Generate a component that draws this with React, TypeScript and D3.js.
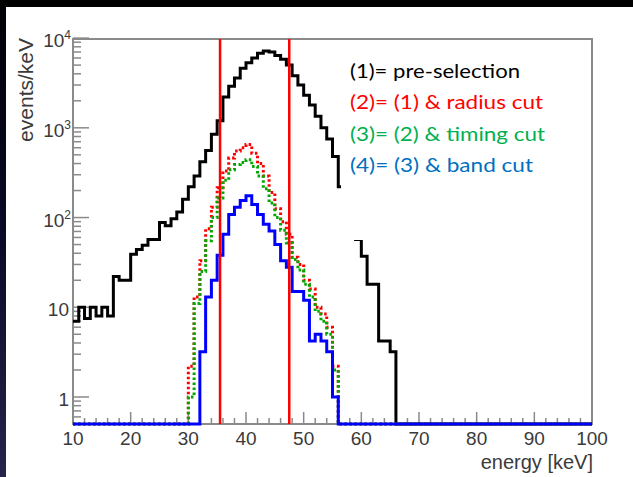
import React from "react";
import * as d3 from "d3";

// ---- data (1 keV bins, value per bin starting at given lower edge) ----
const blackStart = 10;
const blackValues = [7, 10, 7.5, 10, 8, 10, 8, 22, 20, 20, 39, 44, 49, 57, 57, 88, 81, 97, 115, 160,
  220, 290, 420, 560, 850, 1200, 2200, 2900, 3600, 4600, 5300, 6000, 6800, 7200, 7000, 6400, 5800,
  5000, 3800, 3000, 2300, 1800, 1350, 1000, 750, 480, 220, 130, 85, 57, 37, 18, 18, 4.2, 4.2, 3.2];
const redStart = 30;
const redValues = [2.2, 13, 33, 75, 130, 215, 330, 460, 550, 600, 650, 520, 400, 290, 190, 125, 90,
  65, 36, 30, 20, 16, 10, 8.4, 6, 2.2];
const greenStart = 30;
const greenValues = [1.0, 11, 25, 55, 100, 165, 260, 340, 390, 410, 440, 370, 290, 210, 145, 100, 72,
  52, 34, 26, 18, 13, 9, 7, 5, 2];
const blueStart = 32;
const blueValues = [3.2, 13, 20, 38, 65, 108, 130, 155, 175, 140, 108, 84, 71, 50, 33, 28, 15, 15, 12,
  4.2, 5, 4.2, 3.2, 1.0];
const cutLines = [35.5, 47.5];
const xTicks = [10, 20, 30, 40, 50, 60, 70, 80, 90, 100];
const yMajor = [1, 10, 100, 1000, 10000];
const legendLines = [
  { text: "(1)= pre-selection", color: "#000000", width: 170 },
  { text: "(2)= (1) & radius cut", color: "#ff0000", width: 193 },
  { text: "(3)= (2) & timing cut", color: "#00b050", width: 195 },
  { text: "(4)= (3) & band cut", color: "#0070c0", width: 183 },
];

const L = 73, R = 592, T = 39, B = 424;

export default function App() {
  const x = d3.scaleLinear().domain([10, 100]).range([L, R]);
  const y = d3.scaleLog().domain([0.5, Math.pow(10, 3.99)]).range([B, T]);

  const bins = d3.range(10, 100);
  const makePath = (start: number, vals: number[]) => {
    const pts: [number, number][] = bins.map((e) => {
      const i = e - start;
      const v = i >= 0 && i < vals.length ? vals[i] : 0;
      return [x(e), v > 0 ? y(v) : B];
    });
    pts.push([x(100), B]);
    return d3.line().curve(d3.curveStepAfter)(pts) || "";
  };

  const minorY: number[] = [];
  for (let k = -1; k <= 3; k++) {
    for (let m = 2; m <= 9; m++) {
      const v = m * Math.pow(10, k);
      if (v >= 0.5 && v <= Math.pow(10, 3.99)) minorY.push(v);
    }
  }
  const minorX = d3.range(10, 101, 2).filter((v) => v % 10 !== 0);

  const tickColor = "#8a8a8a";
  const labelColor = "#3a3a3a";
  const font = "'Liberation Sans', Arial, Helvetica, sans-serif";

  return (
    <svg width={633} height={477} style={{ position: "absolute", left: 0, top: 0 }}>
      <defs>
        <linearGradient id="sideGrad" x1="0" y1="0" x2="0" y2="1">
          <stop offset="0" stopColor="#000005" />
          <stop offset="0.5" stopColor="#0a0a28" />
          <stop offset="1" stopColor="#25244a" />
        </linearGradient>
      </defs>
      <rect x={0} y={0} width={633} height={477} fill="#ffffff" />
      <rect x={0} y={0} width={6} height={477} fill="url(#sideGrad)" />
      <rect x={0} y={0} width={633} height={7} fill="#000000" />

      {/* frame */}
      <rect x={L} y={T} width={R - L} height={B - T} fill="none" stroke={tickColor} strokeWidth={2} />

      {/* y ticks */}
      {yMajor.map((v) => (
        <line key={"ym" + v} x1={L} x2={L + 16} y1={y(v)} y2={y(v)} stroke={tickColor} strokeWidth={1.5} />
      ))}
      {minorY.map((v) => (
        <line key={"yn" + v} x1={L} x2={L + 8} y1={y(v)} y2={y(v)} stroke={tickColor} strokeWidth={1.5} />
      ))}
      {/* x ticks */}
      {xTicks.map((v) => (
        <line key={"xm" + v} x1={x(v)} x2={x(v)} y1={B} y2={B - 12} stroke={tickColor} strokeWidth={1.5} />
      ))}
      {minorX.map((v) => (
        <line key={"xn" + v} x1={x(v)} x2={x(v)} y1={B} y2={B - 6} stroke={tickColor} strokeWidth={1.5} />
      ))}

      {/* histograms */}
      <path d={makePath(blackStart, blackValues)} fill="none" stroke="#000" strokeWidth={3} />
      <path d={makePath(redStart, redValues)} fill="none" stroke="#ff0000" strokeWidth={3} strokeDasharray="2.5,2.5" />
      <path d={makePath(greenStart, greenValues)} fill="none" stroke="#00a800" strokeWidth={3} strokeDasharray="2.5,2.5" />
      <path d={makePath(blueStart, blueValues)} fill="none" stroke="#0000ff" strokeWidth={3} />

      {/* cut lines */}
      {cutLines.map((c) => (
        <line key={"c" + c} x1={x(c)} x2={x(c)} y1={T} y2={B} stroke="#ff0000" strokeWidth={2.5} />
      ))}

      {/* x labels */}
      {xTicks.map((v) => (
        <text key={"xl" + v} x={x(v)} y={445} textAnchor="middle" fontFamily={font} fontSize={19} fill={labelColor}>
          {v}
        </text>
      ))}
      <text x={593} y={469} textAnchor="end" fontFamily={font} fontSize={20} fill={labelColor}>
        energy [keV]
      </text>

      {/* y labels */}
      <text x={69} y={y(1) + 9} textAnchor="end" fontFamily={font} fontSize={19} fill={labelColor}>1</text>
      <text x={69} y={y(10) + 9} textAnchor="end" fontFamily={font} fontSize={19} fill={labelColor}>10</text>
      {[2, 3, 4].map((p) => (
        <text key={"yl" + p} x={71} y={y(Math.pow(10, p)) + 9} textAnchor="end" fontFamily={font} fontSize={19} fill={labelColor}>
          10<tspan fontSize={12} dy={-8}>{p}</tspan>
        </text>
      ))}
      <text transform="translate(33,38) rotate(-90)" textAnchor="end" fontFamily={font} fontSize={21} fill={labelColor}>
        events/keV
      </text>

      {/* legend box */}
      <rect x={341} y={45} width={247} height={195} fill="#ffffff" />
      {legendLines.map((l, i) => (
        <text key={"lg" + i} x={350} y={78 + i * 31.3} fontFamily="Lato, 'Open Sans', sans-serif" fontSize={19}
          fill={l.color} textLength={l.width} lengthAdjust="spacingAndGlyphs">
          {l.text}
        </text>
      ))}
    </svg>
  );
}
